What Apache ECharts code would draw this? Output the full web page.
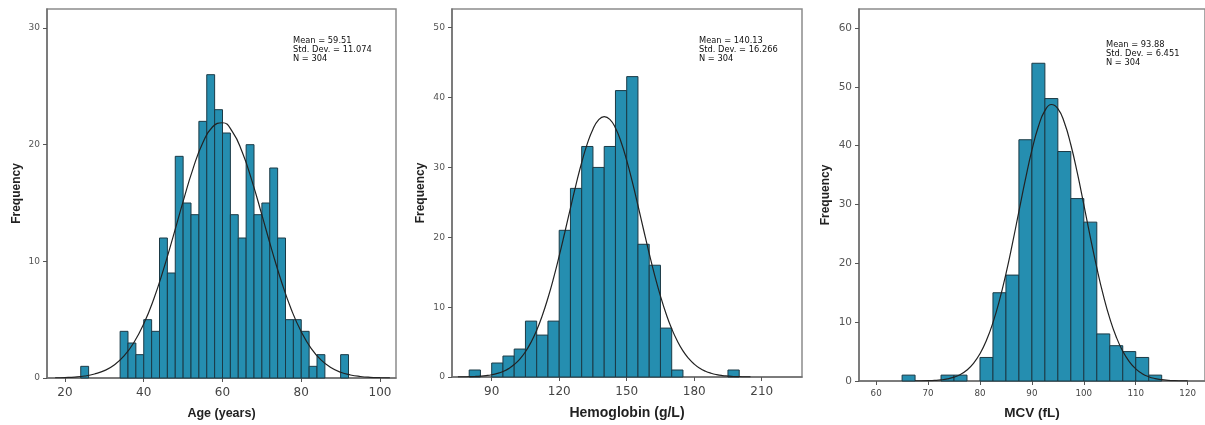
<!DOCTYPE html>
<html>
<head>
<meta charset="utf-8">
<script src="https://cdn.jsdelivr.net/npm/echarts@6/dist/echarts.min.js"></script>
<style>
html,body{margin:0;padding:0;background:#fff;}
#chart{width:1205px;height:425px;}
</style>
</head>
<body>
<div id="chart"></div>
<script>
// ---------- Age ----------
const ageBinWidth = 2;
const ageBinStart = [24, 34, 36, 38, 40, 42, 44, 46, 48, 50, 52, 54, 56, 58, 60, 62, 64, 66, 68, 70, 72, 74, 76, 78, 80, 82, 84, 90];
const ageCounts   = [1, 4, 3, 2, 5, 4, 12, 9, 19, 15, 14, 22, 26, 23, 21, 14, 12, 20, 14, 15, 18, 12, 5, 5, 4, 1, 2, 2];
const ageCurveX = [17.5, 20, 22.5, 25, 27.5, 30, 32.5, 35, 37.5, 40, 42.5, 45, 47.5, 50, 52.5, 55, 57.5, 60, 62.5, 65, 67.5, 70, 72.5, 75, 77.5, 80, 82.5, 85, 87.5, 90, 92.5, 95, 97.5, 100, 102.5];
const ageCurveY = [0.02, 0.04, 0.08, 0.17, 0.34, 0.63, 1.12, 1.89, 3.04, 4.64, 6.73, 9.29, 12.16, 15.14, 17.93, 20.16, 21.54, 21.88, 21.12, 19.37, 16.88, 13.98, 11.01, 8.23, 5.85, 3.96, 2.54, 1.55, 0.9, 0.49, 0.26, 0.13, 0.06, 0.03, 0.01];
const ageXTicks = [20, 40, 60, 80, 100];
const ageYTicks = [0, 10, 20, 30];
const ageStats = ['Mean = 59.51', 'Std. Dev. = 11.074', 'N = 304'];
const ageTitle = 'Age (years)';

// ---------- Hemoglobin ----------
const hbBinWidth = 5;
const hbBinStart = [80, 90, 95, 100, 105, 110, 115, 120, 125, 130, 135, 140, 145, 150, 155, 160, 165, 170, 195];
const hbCounts   = [1, 2, 3, 4, 8, 6, 8, 21, 27, 33, 30, 33, 41, 43, 19, 16, 7, 1, 1];
const hbCurveX = [75, 77.5, 80, 82.5, 85, 87.5, 90, 92.5, 95, 97.5, 100, 102.5, 105, 107.5, 110, 112.5, 115, 117.5, 120, 122.5, 125, 127.5, 130, 132.5, 135, 137.5, 140, 142.5, 145, 147.5, 150, 152.5, 155, 157.5, 160, 162.5, 165, 167.5, 170, 172.5, 175, 177.5, 180, 182.5, 185, 187.5, 190, 192.5, 195, 197.5, 200, 202.5, 205];
const hbCurveY = [0.01, 0.02, 0.04, 0.07, 0.12, 0.2, 0.32, 0.51, 0.79, 1.2, 1.78, 2.57, 3.62, 4.98, 6.7, 8.81, 11.31, 14.16, 17.33, 20.72, 24.19, 27.58, 30.71, 33.4, 35.47, 36.8, 37.28, 36.89, 35.65, 33.65, 31.01, 27.92, 24.55, 21.08, 17.68, 14.48, 11.58, 9.05, 6.9, 5.15, 3.74, 2.66, 1.85, 1.25, 0.83, 0.54, 0.34, 0.21, 0.13, 0.07, 0.04, 0.02, 0.01];
const hbXTicks = [90, 120, 150, 180, 210];
const hbYTicks = [0, 10, 20, 30, 40, 50];
const hbStats = ['Mean = 140.13', 'Std. Dev. = 16.266', 'N = 304'];
const hbTitle = 'Hemoglobin (g/L)';

// ---------- MCV ----------
const mcvBinWidth = 2.5;
const mcvBinStart = [65, 72.5, 75, 80, 82.5, 85, 87.5, 90, 92.5, 95, 97.5, 100, 102.5, 105, 107.5, 110, 112.5];
const mcvCounts   = [1, 1, 1, 4, 15, 18, 41, 54, 48, 39, 31, 27, 8, 6, 5, 4, 1];
const mcvCurveX = [67.5, 68.75, 70, 71.25, 72.5, 73.75, 75, 76.25, 77.5, 78.75, 80, 81.25, 82.5, 83.75, 85, 86.25, 87.5, 88.75, 90, 91.25, 92.5, 93.75, 95, 96.25, 97.5, 98.75, 100, 101.25, 102.5, 103.75, 105, 106.25, 107.5, 108.75, 110, 111.25, 112.5, 113.75, 115, 116.25, 117.5, 118.75, 120];
const mcvCurveY = [0.01, 0.02, 0.05, 0.1, 0.19, 0.36, 0.65, 1.12, 1.87, 3.0, 4.64, 6.91, 9.92, 13.7, 18.22, 23.35, 28.83, 34.26, 39.22, 43.25, 45.94, 46.99, 46.3, 43.93, 40.15, 35.35, 29.97, 24.47, 19.25, 14.58, 10.64, 7.48, 5.06, 3.3, 2.07, 1.25, 0.73, 0.41, 0.22, 0.12, 0.06, 0.03, 0.01];
const mcvXTicks = [60, 70, 80, 90, 100, 110, 120];
const mcvYTicks = [0, 10, 20, 30, 40, 50, 60];
const mcvStats = ['Mean = 93.88', 'Std. Dev. = 6.451', 'N = 304'];
const mcvTitle = 'MCV (fL)';

const yName = 'Frequency';

const panels = [
  { start: ageBinStart, counts: ageCounts, width: ageBinWidth, cx: ageCurveX, cy: ageCurveY, xt: ageXTicks, yt: ageYTicks, stats: ageStats, title: ageTitle,
    grid: { left: 47, top: 9, width: 349, height: 369 }, xmin: 15.43, xmax: 104.06, ymax: 31.63,
    xFont: 12, yFont: 9, nameFont: 12.5, nameGap: 29, yNameGap: 24, xMargin: 9, statsPos: [293, 36] },
  { start: hbBinStart, counts: hbCounts, width: hbBinWidth, cx: hbCurveX, cy: hbCurveY, xt: hbXTicks, yt: hbYTicks, stats: hbStats, title: hbTitle,
    grid: { left: 452, top: 9, width: 350, height: 368 }, xmin: 72.36, xmax: 227.9, ymax: 52.68,
    xFont: 12, yFont: 9.2, nameFont: 14, nameGap: 29, yNameGap: 25, xMargin: 9, statsPos: [699, 36] },
  { start: mcvBinStart, counts: mcvCounts, width: mcvBinWidth, cx: mcvCurveX, cy: mcvCurveY, xt: mcvXTicks, yt: mcvYTicks, stats: mcvStats, title: mcvTitle,
    grid: { left: 859, top: 9, width: 348, height: 373 }, xmin: 56.7, xmax: 123.34, ymax: 63.22,
    xFont: 8.7, yFont: 10.5, nameFont: 13.5, nameGap: 25, yNameGap: 27, xMargin: 8, statsPos: [1106, 40] }
];

const FONT = 'DejaVu Sans';
const TITLE_FONT = 'Liberation Sans';

const grids = [], xAxes = [], yAxes = [], series = [], graphics = [];
panels.forEach((p, i) => {
  grids.push(Object.assign({ show: true, borderColor: '#8c8c8c', borderWidth: 1.5, backgroundColor: '#fff' }, p.grid));
  xAxes.push({
    type: 'value', gridIndex: i, min: p.xmin, max: p.xmax,
    name: p.title, nameLocation: 'middle', nameGap: p.nameGap,
    nameTextStyle: { fontFamily: TITLE_FONT, fontWeight: 'bold', fontSize: p.nameFont, color: '#222' },
    axisLine: { show: true, onZero: false, lineStyle: { color: '#6e6e6e', width: 1.5 } },
    axisTick: { show: true, inside: false, length: 4, customValues: p.xt, lineStyle: { color: '#555', width: 1 } },
    axisLabel: { customValues: p.xt, fontFamily: FONT, fontSize: p.xFont, color: '#444', margin: p.xMargin },
    splitLine: { show: false }
  });
  yAxes.push({
    type: 'value', gridIndex: i, min: 0, max: p.ymax,
    name: yName, nameLocation: 'middle', nameGap: p.yNameGap,
    nameTextStyle: { fontFamily: TITLE_FONT, fontWeight: 'bold', fontSize: 12, color: '#222' },
    axisLine: { show: true, onZero: false, lineStyle: { color: '#6e6e6e', width: 1.5 } },
    axisTick: { show: true, inside: false, length: 4, customValues: p.yt, lineStyle: { color: '#555', width: 1 } },
    axisLabel: { customValues: p.yt, fontFamily: FONT, fontSize: p.yFont, color: '#555', margin: 7 },
    splitLine: { show: false }
  });
  const bw = p.width;
  series.push({
    type: 'custom', xAxisIndex: i, yAxisIndex: i, silent: true, z: 2,
    data: p.start.map((s, k) => [s, p.counts[k]]),
    encode: { x: 0, y: 1 },
    renderItem: function (params, api) {
      const s = api.value(0), c = api.value(1);
      const p0 = api.coord([s, 0]);
      const p1 = api.coord([s + bw, c]);
      return {
        type: 'rect',
        shape: { x: p0[0], y: p1[1], width: p1[0] - p0[0], height: p0[1] - p1[1] },
        style: { fill: '#258eb0', stroke: '#1b3a46', lineWidth: 1 }
      };
    }
  });
  series.push({
    type: 'line', xAxisIndex: i, yAxisIndex: i, silent: true, z: 5,
    data: p.cx.map((x, k) => [x, p.cy[k]]),
    smooth: true, showSymbol: false, symbol: 'none',
    lineStyle: { color: '#222', width: 1.2 }
  });
  graphics.push({
    type: 'text', left: p.statsPos[0], top: p.statsPos[1], z: 10,
    style: { text: p.stats.join('\n'), font: '8.3px "DejaVu Sans"', fill: '#111', lineHeight: 9.3 }
  });
});

const chart = echarts.init(document.getElementById('chart'), null, { renderer: 'canvas' });
chart.setOption({
  animation: false,
  grid: grids,
  xAxis: xAxes,
  yAxis: yAxes,
  series: series,
  graphic: graphics
});
</script>
</body>
</html>
